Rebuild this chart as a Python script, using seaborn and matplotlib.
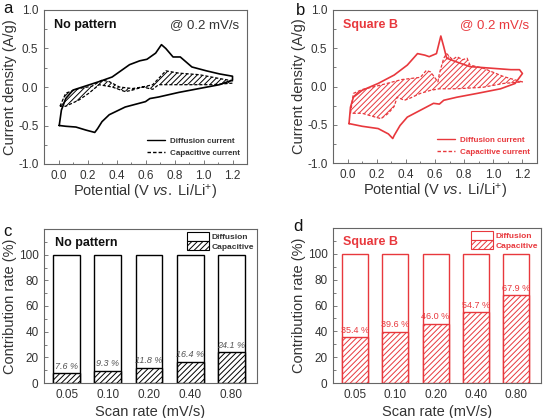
import numpy as np
import pandas as pd
import matplotlib
matplotlib.use("Agg")
import matplotlib.pyplot as plt
from matplotlib.patches import Patch
from matplotlib.lines import Line2D
from matplotlib.ticker import MultipleLocator
import seaborn as sns

sns.set_theme(style="ticks")
plt.rcParams['font.family'] = ['Liberation Sans', 'DejaVu Sans']
plt.rcParams['mathtext.fontset'] = 'custom'
plt.rcParams['mathtext.rm'] = 'Liberation Sans'
plt.rcParams['mathtext.it'] = 'Liberation Sans:italic'
plt.rcParams['hatch.linewidth'] = 0.7
plt.rcParams['axes.unicode_minus'] = False

RED = '#e8383d'

# --- panel a: CV loops, no pattern (potential V, current A/g) ---
a_diff_v = [0.005, 0.02, 0.05, 0.10, 0.28, 0.37, 0.49, 0.56, 0.61, 0.67, 0.71, 0.74, 0.79, 0.84,
            0.92, 1.02, 1.11, 1.20, 1.20, 1.11, 0.97, 0.83, 0.69, 0.63, 0.60, 0.56, 0.46, 0.35,
            0.30, 0.27, 0.25, 0.19, 0.12, 0.05, 0.005]
a_diff_i = [-0.50, -0.30, -0.15, -0.04, 0.07, 0.13, 0.29, 0.34, 0.36, 0.44, 0.55, 0.50, 0.39, 0.39,
            0.26, 0.21, 0.17, 0.14, 0.09, 0.03, -0.02, -0.07, -0.13, -0.15, -0.19, -0.21, -0.26, -0.36,
            -0.45, -0.54, -0.59, -0.56, -0.52, -0.51, -0.50]
a_cap_v = [0.01, 0.05, 0.14, 0.23, 0.30, 0.35, 0.42, 0.51, 0.58, 0.65, 0.69, 0.74, 0.83, 0.97,
           1.11, 1.20, 1.20, 1.06, 0.88, 0.69, 0.65, 0.58, 0.51, 0.46, 0.37, 0.28, 0.21, 0.14,
           0.05, 0.01]
a_cap_i = [-0.25, -0.08, -0.02, 0.01, 0.09, 0.07, 0.00, -0.02, 0.00, 0.03, 0.11, 0.21, 0.18, 0.16,
           0.11, 0.08, 0.05, 0.03, 0.03, 0.03, -0.03, 0.00, -0.04, -0.06, 0.00, 0.03, -0.08, -0.17,
           -0.25, -0.25]

# --- panel b: CV loops, square B ---
b_diff_v = [0.01, 0.02, 0.04, 0.10, 0.21, 0.32, 0.41, 0.48, 0.53, 0.56, 0.61, 0.64, 0.66, 0.68,
            0.75, 0.84, 0.98, 1.12, 1.18, 1.20, 1.15, 1.05, 0.89, 0.75, 0.66, 0.63, 0.59, 0.48,
            0.41, 0.36, 0.32, 0.31, 0.28, 0.21, 0.10, 0.01]
b_diff_i = [-0.485, -0.27, -0.14, -0.05, 0.04, 0.15, 0.28, 0.43, 0.41, 0.39, 0.43, 0.66, 0.52, 0.37,
            0.32, 0.26, 0.24, 0.22, 0.22, 0.17, 0.04, -0.03, -0.09, -0.14, -0.18, -0.23, -0.22, -0.33,
            -0.40, -0.51, -0.64, -0.68, -0.62, -0.55, -0.52, -0.485]
b_cap_v = [0.02, 0.04, 0.10, 0.23, 0.37, 0.50, 0.54, 0.57, 0.62, 0.63, 0.66, 0.68, 0.72, 0.75,
           0.79, 0.82, 0.84, 0.93, 1.07, 1.18, 1.20, 1.07, 0.93, 0.75, 0.63, 0.57, 0.50, 0.42,
           0.39, 0.34, 0.32, 0.28, 0.23, 0.19, 0.10, 0.02]
b_cap_i = [-0.35, -0.09, -0.04, 0.02, 0.09, 0.12, 0.21, 0.19, 0.06, 0.17, 0.37, 0.43, 0.35, 0.39,
           0.35, 0.37, 0.28, 0.24, 0.13, 0.07, 0.06, 0.04, -0.01, -0.03, -0.03, -0.05, -0.09, -0.16,
           -0.18, -0.14, -0.26, -0.35, -0.42, -0.40, -0.35, -0.35]

# --- panels c/d: contribution ratios ---
scan_rates = ['0.05', '0.10', '0.20', '0.40', '0.80']
cap_nopattern = [7.6, 9.3, 11.8, 16.4, 24.1]
cap_squareb = [35.4, 39.6, 46.0, 54.7, 67.9]

W, H = 544, 418
fig = plt.figure(figsize=(W / 100, H / 100), dpi=100)


def box(l, r, t, b):
    return [l / W, 1 - b / H, (r - l) / W, (b - t) / H]


def style_axes(ax):
    for s in ax.spines.values():
        s.set_color('#666666')
        s.set_linewidth(0.8)
    ax.tick_params(direction='in', which='both', colors='#666666', labelcolor='#333333',
                   labelsize=8.5, length=3, width=0.6, pad=4)
    ax.tick_params(which='minor', length=1.8)


def cv_panel(ax, dv, di, cv, ci, color, title):
    sns.lineplot(x=dv, y=di, sort=False, estimator=None, color=color, lw=1.2, ax=ax)
    sns.lineplot(x=cv, y=ci, sort=False, estimator=None, color=color, lw=0.9,
                 linestyle=(0, (2.5, 1.5)), ax=ax)
    ax.fill(cv, ci, facecolor='none', edgecolor=color, hatch='//////', lw=0)
    ax.set_xlim(-0.1, 1.3)
    ax.set_ylim(-1.0, 1.0)
    ax.xaxis.set_major_locator(MultipleLocator(0.2))
    ax.xaxis.set_minor_locator(MultipleLocator(0.1))
    ax.yaxis.set_major_locator(MultipleLocator(0.5))
    ax.yaxis.set_minor_locator(MultipleLocator(0.25))
    ax.set_xlabel(r'Potential (V $\it{vs.}$ Li/Li$^{+}$)', fontsize=10.5, color='#333333',
                  labelpad=1)
    ax.set_ylabel('Current density (A/g)', fontsize=10.5, color='#333333', labelpad=1)
    tc = color if color != 'black' else '#111111'
    ax.text(0.05, 0.94, title, transform=ax.transAxes, fontsize=9, fontweight='bold',
            color=tc, va='top')
    ax.text(0.96, 0.94, '@ 0.2 mV/s', transform=ax.transAxes, fontsize=9.5,
            color=tc if color != 'black' else '#333333', va='top', ha='right')
    handles = [Line2D([], [], color=color, lw=1.0),
               Line2D([], [], color=color, lw=1.0, linestyle=(0, (2.5, 1.5)))]
    leg = ax.legend(handles, ['Diffusion current', 'Capacitive current'], loc='lower right',
                    frameon=False, handlelength=2.2, handletextpad=0.6,
                    labelspacing=0.5, borderaxespad=0.5,
                    prop={'weight': 'bold', 'size': 5.8})
    for t in leg.get_texts():
        t.set_color(tc if color != 'black' else '#333333')
    style_axes(ax)


def bar_panel(ax, cap, color, title, label_color, label_style):
    diff = [100 - c for c in cap]
    total = [c + d for c, d in zip(cap, diff)]
    sns.barplot(x=scan_rates, y=total, color='white', edgecolor=color, linewidth=1.0,
                width=0.65, saturation=1, ax=ax)
    sns.barplot(x=scan_rates, y=cap, color='white', edgecolor=color, linewidth=1.0,
                width=0.65, saturation=1, hatch='//////', ax=ax)
    for i, c in enumerate(cap):
        ax.text(i, c + 2.0, f'{c:.1f} %', ha='center', va='bottom', fontsize=6.5,
                fontstyle=label_style, color=label_color)
    ax.set_xlim(-0.55, 4.62)
    ax.set_ylim(0, 120)
    ax.set_yticks([0, 20, 40, 60, 80, 100])
    ax.yaxis.set_minor_locator(MultipleLocator(10))
    ax.set_xlabel('Scan rate (mV/s)', fontsize=10.5, color='#333333', labelpad=3)
    ax.set_ylabel('Contribution rate (%)', fontsize=10.5, color='#333333', labelpad=1)
    tc = color if color != 'black' else '#111111'
    ax.text(0.05, 0.95, title, transform=ax.transAxes, fontsize=9, fontweight='bold',
            color=tc, va='top')
    handles = [Patch(facecolor='white', edgecolor=color, lw=0.8),
               Patch(facecolor='white', edgecolor=color, lw=0.8, hatch='//////')]
    leg = ax.legend(handles, ['Diffusion', 'Capacitive'], loc='upper right', frameon=False,
                    handlelength=2.6, handleheight=1.3, labelspacing=0.0, handletextpad=0.3,
                    borderaxespad=0.15, borderpad=0.2, prop={'weight': 'bold', 'size': 6})
    for t in leg.get_texts():
        t.set_color(tc if color != 'black' else '#333333')
    style_axes(ax)
    ax.tick_params(axis='x', which='minor', length=0)


ax_a = fig.add_axes(box(44, 247, 10, 164))
cv_panel(ax_a, a_diff_v, a_diff_i, a_cap_v, a_cap_i, 'black', 'No pattern')
ax_b = fig.add_axes(box(333, 537, 10, 163))
cv_panel(ax_b, b_diff_v, b_diff_i, b_cap_v, b_cap_i, RED, 'Square B')
ax_c = fig.add_axes(box(44, 257, 229, 383))
bar_panel(ax_c, cap_nopattern, 'black', 'No pattern', '#555555', 'italic')
ax_d = fig.add_axes(box(333, 541, 228, 383))
bar_panel(ax_d, cap_squareb, RED, 'Square B', RED, 'normal')

for lab, x, y in [('a', 3, 1), ('b', 296, 3), ('c', 3, 224), ('d', 293, 219)]:
    fig.text(x / W, 1 - y / H, lab, fontsize=12, va='top', ha='left', color='#111111')

fig.savefig('out.png', dpi=100)
